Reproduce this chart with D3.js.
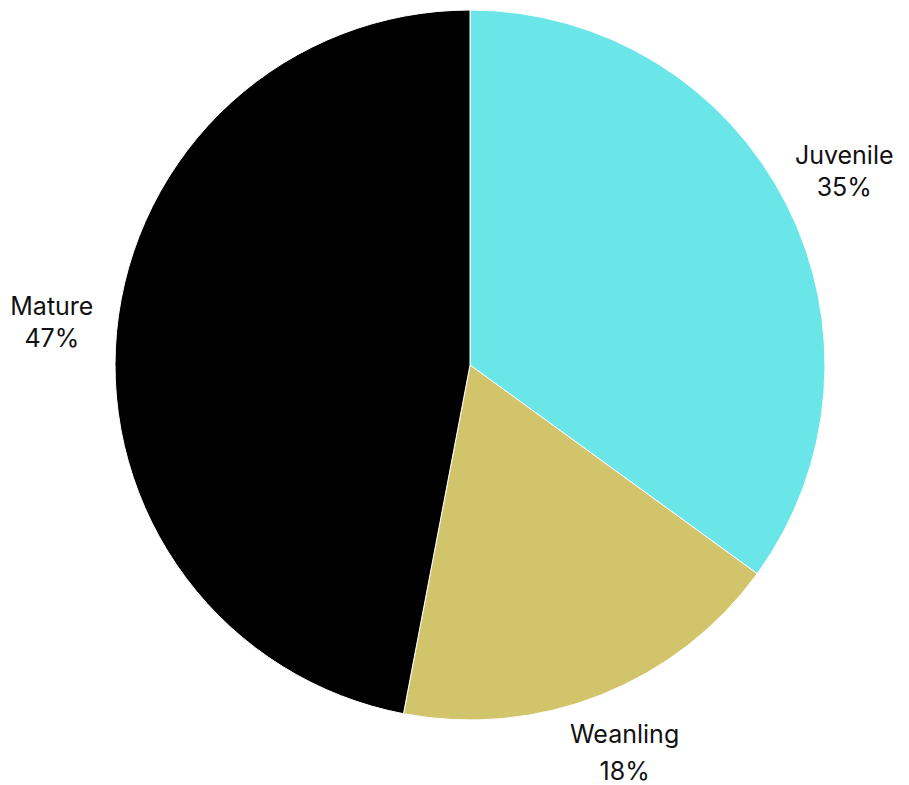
<!DOCTYPE html>
<html lang="en">
<head>
<meta charset="utf-8">
<title>Pie</title>
<style>
  body { margin: 0; background: #fff; }
  text.lbl { font: 25px "Inter", "Noto Sans", sans-serif; fill: #111; }
</style>
</head>
<body>
<script src="https://cdn.jsdelivr.net/npm/d3@7"></script>
<script>
// chart data
const categories = ["Juvenile", "Weanling", "Mature"];
const shares = [35, 18, 47];
const colors = ["#6ae6e8", "#d2c46a", "#000000"];

const width = 909, height = 785;
const cx = 470, cy = 365, radius = 355;

const svg = d3.select("body").append("svg")
  .attr("width", width)
  .attr("height", height);

const g = svg.append("g").attr("transform", "translate(" + cx + "," + cy + ")");

const pie = d3.pie().sort(null).value(d => d.value);
const data = pie(categories.map((c, i) => ({ name: c, value: shares[i], color: colors[i] })));

const arc = d3.arc().innerRadius(0).outerRadius(radius);
const labelArc = d3.arc().innerRadius(420).outerRadius(420);

g.selectAll("path")
  .data(data)
  .enter()
  .append("path")
  .attr("d", arc)
  .attr("fill", d => d.data.color)
  .attr("stroke", "#fff")
  .attr("stroke-width", 1);

// labels outside the pie, two lines each
const lab = g.selectAll("text.lbl")
  .data(data)
  .enter()
  .append("text")
  .attr("class", "lbl")
  .attr("text-anchor", "middle")
  .attr("transform", d => "translate(" + labelArc.centroid(d) + ")");

lab.each(function (d) {
  const gap = d.data.name === "Weanling" ? 37 : 32;
  const t = d3.select(this);
  t.append("tspan").attr("x", 0).attr("y", -gap / 2 + 6).text(d.data.name);
  t.append("tspan").attr("x", 0).attr("y", gap / 2 + 6).text(d.data.value + "%");
});
</script>
</body>
</html>
